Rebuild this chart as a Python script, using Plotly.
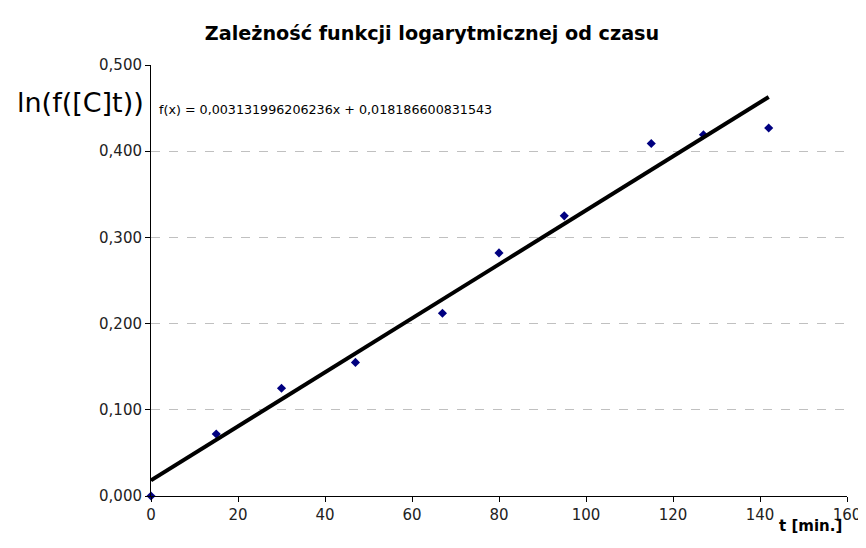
import plotly.graph_objects as go

t_min = [0, 15, 30, 47, 67, 80, 95, 115, 127, 142]
ln_vals = [0.000, 0.072, 0.125, 0.155, 0.212, 0.282, 0.325, 0.409, 0.419, 0.427]
slope = 0.003131996206236
intercept = 0.018186600831543
fit_x = [0, 142]
fit_y = [intercept + slope * x for x in fit_x]
x_ticks = [0, 20, 40, 60, 80, 100, 120, 140, 160]
y_ticks = [0.0, 0.1, 0.2, 0.3, 0.4, 0.5]

font = "DejaVu Sans"
fig = go.Figure()
fig.add_trace(go.Scatter(x=t_min, y=ln_vals, mode="markers",
                         marker=dict(symbol="diamond", size=7, color="#000080"),
                         showlegend=False, cliponaxis=False))
fig.add_trace(go.Scatter(x=fit_x, y=fit_y, mode="lines",
                         line=dict(color="black", width=4), showlegend=False))

fig.update_layout(
    width=866, height=532,
    margin=dict(l=143, r=27, t=57, b=44, autoexpand=False),
    paper_bgcolor="white", plot_bgcolor="white",
    separators=", ",
    font=dict(family=font, size=13, color="#222"),
    title=dict(text="<b>Zależność funkcji logarytmicznej od czasu</b>",
               x=0.4896, xanchor="center", y=1 - 25 / 532, yanchor="middle",
               font=dict(family=font, size=19.2, color="black")),
    xaxis=dict(range=[0, 160], tickvals=x_ticks, showgrid=False, zeroline=False,
               showline=True, linecolor="black", linewidth=1,
               ticks="outside", ticklen=5, tickcolor="black",
               automargin=False, ticklabeloverflow="allow",
               tickfont=dict(family=font, size=15, color="#222")),
    yaxis=dict(range=[0, 0.5], tickvals=y_ticks, tickformat=".3f",
               showgrid=True, gridcolor="#c0c0c0", griddash="dash", gridwidth=1,
               zeroline=False, showline=True, linecolor="black", linewidth=1,
               ticks="outside", ticklen=5, tickcolor="black",
               automargin=False,
               tickfont=dict(family=font, size=15, color="#222")),
    annotations=[
        dict(text="ln(f([C]t))", xref="paper", yref="paper", x=-0.196, y=0.914,
             xanchor="left", yanchor="middle", showarrow=False,
             font=dict(family=font, size=27, color="black")),
        dict(text="<b>t [min.]</b>", xref="paper", yref="paper", x=0.995, y=-0.07,
             xanchor="right", yanchor="middle", showarrow=False,
             font=dict(family=font, size=15, color="black")),
        dict(text="f(x) = 0,003131996206236x + 0,018186600831543", xref="paper", yref="paper",
             x=0.009, y=0.897, xanchor="left", yanchor="middle", showarrow=False,
             font=dict(family=font, size=12.7, color="black")),
    ],
)
fig.write_html("out.html")
